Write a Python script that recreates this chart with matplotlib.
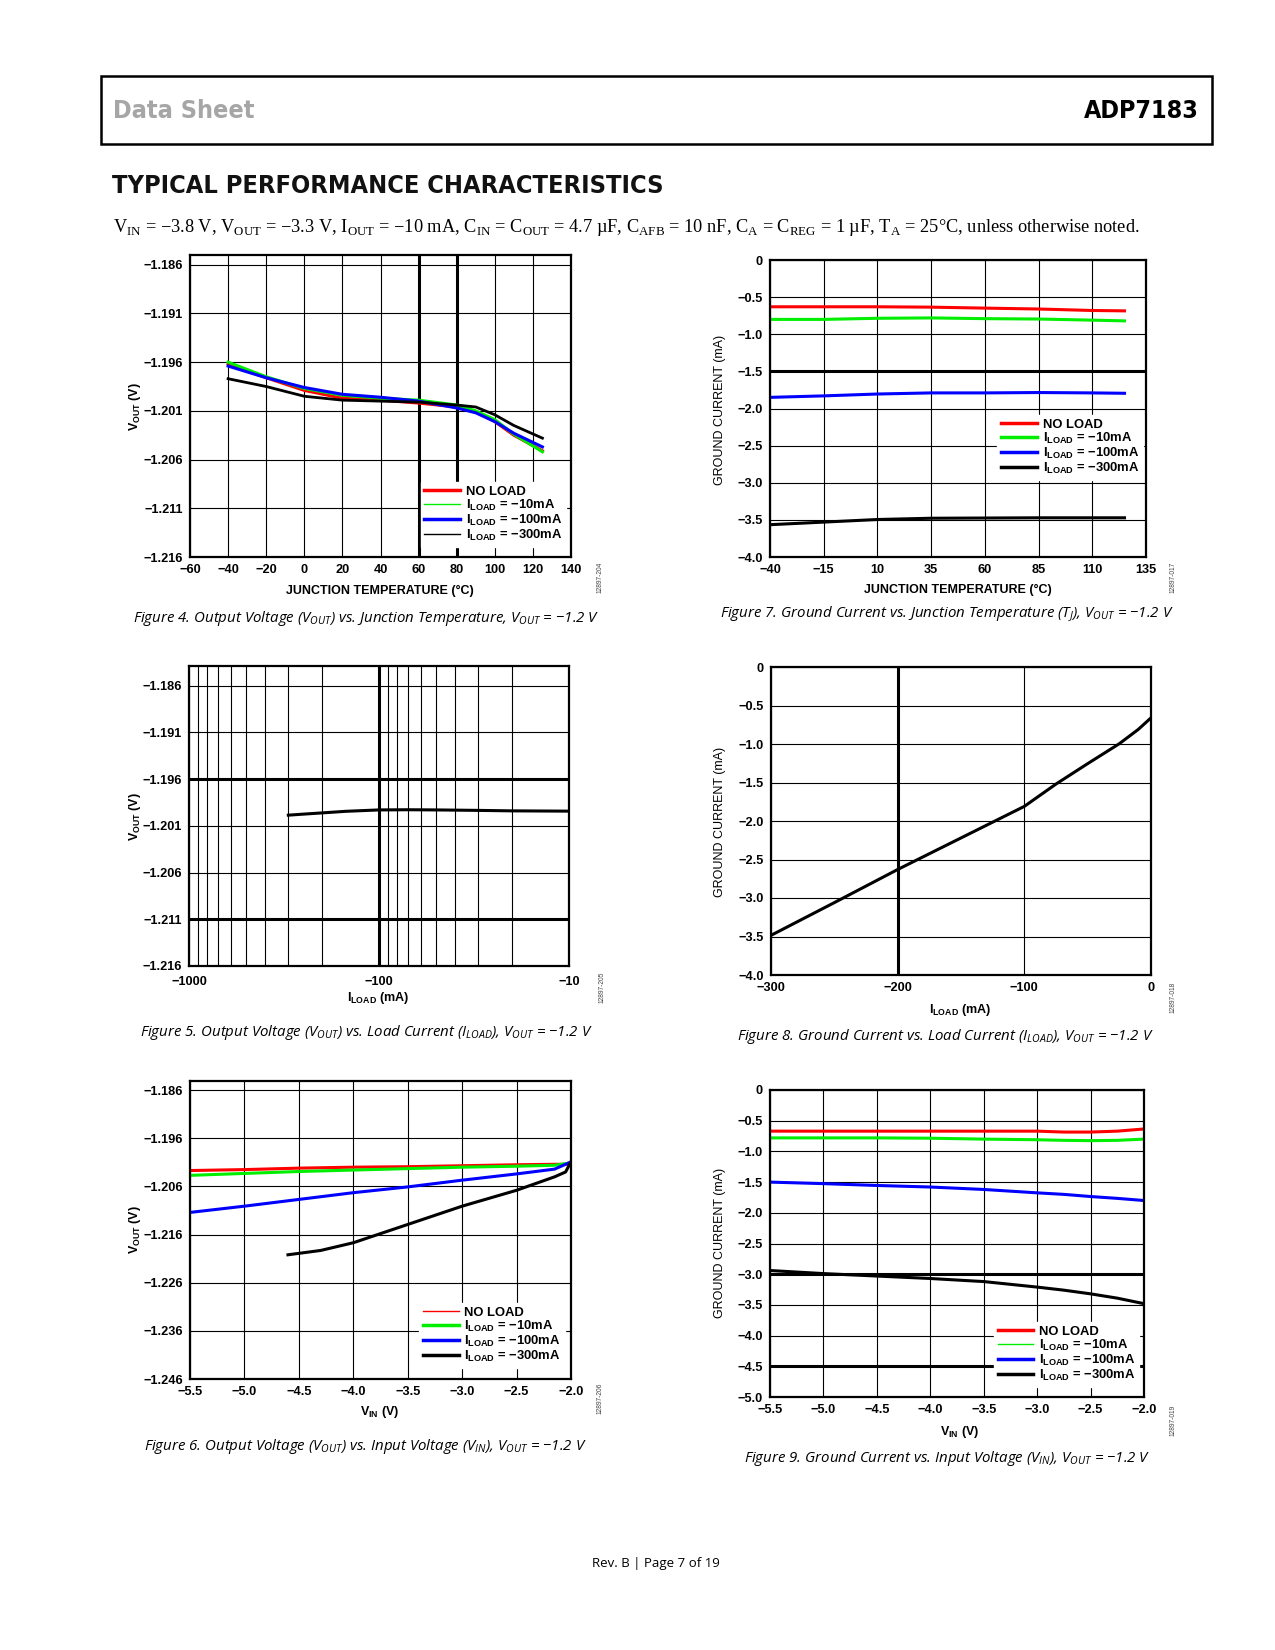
# ADP7183 data sheet page 7 - typical performance characteristics
# six small charts laid out on one letter-size page

import numpy as np
import matplotlib
matplotlib.use("Agg")
import matplotlib.pyplot as plt
from matplotlib import font_manager
from matplotlib.ticker import FuncFormatter, NullFormatter, FixedLocator

# -------------------------------------------------------
# DATA
# -------------------------------------------------------

series_names = ["NO LOAD", r"I$_{\mathbf{LOAD}}$ = −10mA",
                r"I$_{\mathbf{LOAD}}$ = −100mA", r"I$_{\mathbf{LOAD}}$ = −300mA"]
series_colors = ["#ff0000", "#00ee00", "#0000ff", "#000000"]

# Figure 4: Vout vs junction temperature
fig4_temp = [-40, -20, 0, 20, 40, 60, 80, 90, 100, 110, 125]
fig4_noload = [-1.1962, -1.1976, -1.1989, -1.1997, -1.1999, -1.2002, -1.2006, -1.2011, -1.2021, -1.2035, -1.2051]
fig4_10ma = [-1.1960, -1.1975, -1.1987, -1.1994, -1.1997, -1.1999, -1.2004, -1.2010, -1.2019, -1.2034, -1.2052]
fig4_100ma = [-1.1964, -1.1976, -1.1986, -1.1993, -1.1996, -1.2000, -1.2007, -1.2012, -1.2021, -1.2033, -1.2047]
fig4_300ma = [-1.1977, -1.1985, -1.1995, -1.1999, -1.2000, -1.2001, -1.2004, -1.2006, -1.2014, -1.2025, -1.2038]

# Figure 7: ground current vs junction temperature
fig7_temp = [-40, -15, 10, 35, 60, 85, 110, 125]
fig7_noload = [-0.63, -0.63, -0.63, -0.635, -0.648, -0.66, -0.68, -0.685]
fig7_10ma = [-0.80, -0.80, -0.785, -0.78, -0.79, -0.795, -0.81, -0.82]
fig7_100ma = [-1.85, -1.83, -1.805, -1.79, -1.79, -1.785, -1.79, -1.795]
fig7_300ma = [-3.565, -3.53, -3.495, -3.478, -3.475, -3.472, -3.472, -3.472]

# Figure 5: Vout vs load current (log axis)
fig5_iload = [-300, -250, -200, -150, -100, -70, -50, -30, -20, -10]
fig5_vout = [-1.19986, -1.19975, -1.19962, -1.19945, -1.19930, -1.19928, -1.19930, -1.19935, -1.19940, -1.19943]

# Figure 8: ground current vs load current
fig8_iload = [-300, -250, -200, -150, -100, -75, -50, -25, -10, 0]
fig8_ignd = [-3.485, -3.06, -2.63, -2.22, -1.81, -1.52, -1.255, -0.996, -0.81, -0.66]

# Figure 6: Vout vs input voltage
fig6_vin = [-5.5, -5.0, -4.5, -4.0, -3.5, -3.0, -2.5, -2.15, -2.0]
fig6_noload = [-1.2027, -1.2025, -1.2022, -1.2020, -1.2019, -1.2017, -1.2015, -1.2014, -1.2014]
fig6_10ma = [-1.2037, -1.2033, -1.2029, -1.2026, -1.2023, -1.2020, -1.2018, -1.2016, -1.2011]
fig6_100ma = [-1.2114, -1.2101, -1.2087, -1.2073, -1.2061, -1.2047, -1.2034, -1.2024, -1.2009]
fig6_vin_300 = [-4.6, -4.3, -4.0, -3.75, -3.5, -3.0, -2.5, -2.15, -2.05, -2.0]
fig6_300ma = [-1.2202, -1.2193, -1.2177, -1.2158, -1.2139, -1.2101, -1.2068, -1.2040, -1.2030, -1.2009]

# Figure 9: ground current vs input voltage
fig9_vin = [-5.5, -5.0, -4.5, -4.0, -3.5, -3.0, -2.75, -2.5, -2.25, -2.0]
fig9_noload = [-0.67, -0.67, -0.67, -0.67, -0.67, -0.67, -0.685, -0.685, -0.67, -0.635]
fig9_10ma = [-0.78, -0.78, -0.78, -0.785, -0.80, -0.81, -0.82, -0.825, -0.82, -0.80]
fig9_100ma = [-1.50, -1.525, -1.555, -1.58, -1.62, -1.675, -1.70, -1.735, -1.765, -1.80]
fig9_300ma = [-2.94, -2.99, -3.03, -3.07, -3.12, -3.21, -3.26, -3.32, -3.39, -3.48]

# -------------------------------------------------------
# PAGE SETUP
# -------------------------------------------------------

plt.rcParams["font.family"] = ["Liberation Sans", "DejaVu Sans"]
plt.rcParams["font.weight"] = "bold"
plt.rcParams["axes.labelweight"] = "bold"
plt.rcParams["mathtext.fontset"] = "custom"
plt.rcParams["mathtext.rm"] = "Liberation Serif:weight=normal"
plt.rcParams["mathtext.it"] = "Open Sans:style=italic:weight=normal"
plt.rcParams["mathtext.bf"] = "Liberation Sans:weight=bold"

W, H = 1275, 1650
fig = plt.figure(figsize=(W / 100, H / 100), dpi=100)


def px_axes(left, top, right, bottom):
    # add an axes using page pixel coordinates
    return fig.add_axes([left / W, 1 - bottom / H, (right - left) / W, (bottom - top) / H])


def fig_text(x, y, s, **kw):
    fig.text(x / W, 1 - y / H, s, **kw)


def minus(fmt):
    def f(v, pos):
        if abs(v) < 1e-9:
            return "0"
        return (fmt % v).replace("-", "\u2212")
    return FuncFormatter(f)


def style_axes(ax, xfmt, yfmt):
    for sp in ax.spines.values():
        sp.set_linewidth(1.6)
    ax.tick_params(length=0, labelsize=9.2, pad=5)
    ax.xaxis.set_major_formatter(minus(xfmt))
    ax.yaxis.set_major_formatter(minus(yfmt))
    ax.grid(True, color="black", linewidth=0.8)
    ax.set_axisbelow(True)


def add_legend(ax, x, y, widths):
    leg = ax.legend(loc="lower right", bbox_to_anchor=(x, y), borderaxespad=0,
                    fontsize=9.4, handlelength=2.7, handletextpad=0.45,
                    labelspacing=0.0, borderpad=0.3, frameon=True,
                    fancybox=False, framealpha=1, edgecolor="white", facecolor="white")
    for line, w in zip(leg.get_lines(), widths):
        line.set_linewidth(w)
    return leg


def label_at(ax, axis, text, px_x, px_y, box, **kw):
    # place an axis label at a page pixel position
    left, top, right, bottom = box
    fx = (px_x - left) / (right - left)
    fy = (bottom - px_y) / (bottom - top)
    if axis == "x":
        ax.set_xlabel(text, fontsize=9.0, **kw)
        ax.xaxis.set_label_coords(fx, fy)
        ax.xaxis.label.set_va("center")
    else:
        ax.set_ylabel(text, fontsize=9.0, **kw)
        ax.yaxis.set_label_coords(fx, fy)
        ax.yaxis.label.set_va("center")


cap_kw = dict(family=["Open Sans", "DejaVu Sans"], style="italic", weight="normal",
              fontsize=10.8, ha="center", va="center")
id_kw = dict(family=["Liberation Sans"], weight="normal", fontsize=4.8, color="#444444",
             rotation=90, ha="center", va="center")

# condensed bold face for the page headings, if the system has one
cond_prop = font_manager.FontProperties(family="DejaVu Sans", stretch="condensed", weight="bold")
cond_file = font_manager.findfont(cond_prop, fallback_to_default=True)
if "Condensed" in cond_file:
    head_kw = dict(fontproperties=font_manager.FontProperties(fname=cond_file))
    head_sizes = [18, 18.2]
else:
    head_kw = dict(family=["Liberation Sans"], weight="bold")
    head_sizes = [16.5, 15.5]

# -------------------------------------------------------
# HEADER
# -------------------------------------------------------

header = plt.Rectangle((101 / W, 1 - 144 / H), (1212 - 101) / W, (144 - 76) / H,
                       transform=fig.transFigure, fill=False, linewidth=1.8, edgecolor="black")
fig.add_artist(header)
fig_text(113, 111, "Data Sheet", fontsize=head_sizes[0], color="#a6a6a6", va="center", ha="left", **head_kw)
fig_text(1199, 111, "ADP7183", fontsize=head_sizes[0], color="black", va="center", ha="right", **head_kw)
fig_text(112, 186, "TYPICAL PERFORMANCE CHARACTERISTICS", fontsize=head_sizes[1],
         color="#111111", va="center", ha="left", **head_kw)
fig_text(113, 227,
         r"V$_{\mathrm{IN}}$ = −3.8 V, V$_{\mathrm{OUT}}$ = −3.3 V, I$_{\mathrm{OUT}}$ = −10 mA, "
         r"C$_{\mathrm{IN}}$ = C$_{\mathrm{OUT}}$ = 4.7 µF, C$_{\mathrm{AFB}}$ = 10 nF, "
         r"C$_{\mathrm{A}}$ = C$_{\mathrm{REG}}$ = 1 µF, T$_{\mathrm{A}}$ = 25°C, unless otherwise noted.",
         family=["Liberation Serif"], weight="normal", fontsize=13.2, va="center", ha="left")

# -------------------------------------------------------
# FIGURE 4
# -------------------------------------------------------

box4 = (190, 255, 571, 557)
ax4 = px_axes(*box4)
for vals, name, col, lw in zip([fig4_noload, fig4_10ma, fig4_100ma, fig4_300ma],
                               series_names, series_colors, [2.2, 2.2, 2.2, 2.0]):
    ax4.plot(fig4_temp, vals, color=col, linewidth=lw, label=name)
ax4.set_xlim(-60, 140)
ax4.set_ylim(-1.216, -1.185)
ax4.set_xticks(np.arange(-60, 141, 20))
ax4.set_yticks([-1.216, -1.211, -1.206, -1.201, -1.196, -1.191, -1.186])
style_axes(ax4, "%d", "%.3f")
for v in [60, 80]:
    ax4.axvline(v, color="black", linewidth=2.2, zorder=0.5)
add_legend(ax4, 0.987, 0.033, [2.5, 1.0, 2.5, 1.0])
label_at(ax4, "x", "JUNCTION TEMPERATURE (°C)", 380, 591, box4)
label_at(ax4, "y", r"V$_{\mathbf{OUT}}$ (V)", 135, 407, box4)
fig_text(366, 618, r"Figure 4. Output Voltage (V$_{OUT}$) vs. Junction Temperature, V$_{OUT}$ = −1.2 V", **cap_kw)
fig_text(600, 577, "12897-204", **id_kw)

# -------------------------------------------------------
# FIGURE 7
# -------------------------------------------------------

box7 = (770, 260, 1146, 557)
ax7 = px_axes(*box7)
for vals, name, col in zip([fig7_noload, fig7_10ma, fig7_100ma, fig7_300ma], series_names, series_colors):
    ax7.plot(fig7_temp, vals, color=col, linewidth=2.2, label=name)
ax7.set_xlim(-40, 135)
ax7.set_ylim(-4.0, 0)
ax7.set_xticks(np.arange(-40, 136, 25))
ax7.set_yticks(np.arange(-4.0, 0.01, 0.5))
style_axes(ax7, "%d", "%.1f")
ax7.axhline(-1.5, color="black", linewidth=2.2, zorder=0.5)
add_legend(ax7, 0.992, 0.259, [2.5, 2.5, 2.5, 2.5])
label_at(ax7, "x", "JUNCTION TEMPERATURE (°C)", 958, 590, box7)
label_at(ax7, "y", "GROUND CURRENT (mA)", 720, 410, box7, fontweight="normal")
fig_text(947, 614, r"Figure 7. Ground Current vs. Junction Temperature (T$_{J}$), V$_{OUT}$ = −1.2 V", **cap_kw)
fig_text(1173, 577, "12897-017", **id_kw)

# -------------------------------------------------------
# FIGURE 5 (log x axis, drawn on the load current magnitude)
# -------------------------------------------------------

box5 = (189, 666, 569, 966)
ax5 = px_axes(*box5)
ax5.plot(np.abs(fig5_iload), fig5_vout, color="black", linewidth=2.2)
ax5.set_xscale("log")
ax5.set_xlim(1000, 10)
ax5.set_ylim(-1.216, -1.1839)
ax5.set_yticks([-1.216, -1.211, -1.206, -1.201, -1.196, -1.191, -1.186])
style_axes(ax5, "%d", "%.3f")
ax5.xaxis.set_major_locator(FixedLocator([1000, 100, 10]))
ax5.xaxis.set_major_formatter(FuncFormatter(lambda v, p: "\u2212%d" % round(v)))
ax5.xaxis.set_minor_locator(FixedLocator([k * d for d in [10, 100] for k in range(2, 10)]))
ax5.xaxis.set_minor_formatter(NullFormatter())
ax5.tick_params(which="minor", length=0)
ax5.grid(True, which="minor", axis="x", color="black", linewidth=0.8)
ax5.axvline(100, color="black", linewidth=2.2, zorder=0.5)
for v in [-1.196, -1.211]:
    ax5.axhline(v, color="black", linewidth=2.2, zorder=0.5)
ax5.tick_params(axis="x", pad=7)
label_at(ax5, "x", r"I$_{\mathbf{LOAD}}$ (mA)", 378, 998, box5)
label_at(ax5, "y", r"V$_{\mathbf{OUT}}$ (V)", 135, 817, box5)
fig_text(366, 1033, r"Figure 5. Output Voltage (V$_{OUT}$) vs. Load Current (I$_{LOAD}$), V$_{OUT}$ = −1.2 V", **cap_kw)
fig_text(602, 987, "12897-205", **id_kw)

# -------------------------------------------------------
# FIGURE 8
# -------------------------------------------------------

box8 = (771, 667, 1151, 975)
ax8 = px_axes(*box8)
ax8.plot(fig8_iload, fig8_ignd, color="black", linewidth=2.2)
ax8.set_xlim(-300, 0)
ax8.set_ylim(-4.0, 0)
ax8.set_xticks([-300, -200, -100, 0])
ax8.set_yticks(np.arange(-4.0, 0.01, 0.5))
style_axes(ax8, "%d", "%.1f")
ax8.axvline(-200, color="black", linewidth=2.2, zorder=0.5)
label_at(ax8, "x", r"I$_{\mathbf{LOAD}}$ (mA)", 960, 1010, box8)
label_at(ax8, "y", "GROUND CURRENT (mA)", 720, 822, box8, fontweight="normal")
fig_text(945, 1037, r"Figure 8. Ground Current vs. Load Current (I$_{LOAD}$), V$_{OUT}$ = −1.2 V", **cap_kw)
fig_text(1173, 997, "12897-018", **id_kw)

# -------------------------------------------------------
# FIGURE 6
# -------------------------------------------------------

box6 = (190, 1081, 571, 1379)
ax6 = px_axes(*box6)
ax6.plot(fig6_vin, fig6_noload, color=series_colors[0], linewidth=2.2, label=series_names[0])
ax6.plot(fig6_vin, fig6_10ma, color=series_colors[1], linewidth=2.2, label=series_names[1])
ax6.plot(fig6_vin, fig6_100ma, color=series_colors[2], linewidth=2.2, label=series_names[2])
ax6.plot(fig6_vin_300, fig6_300ma, color=series_colors[3], linewidth=2.2, label=series_names[3])
ax6.set_xlim(-5.5, -2.0)
ax6.set_ylim(-1.246, -1.1841)
ax6.set_xticks(np.arange(-5.5, -1.99, 0.5))
ax6.set_yticks([-1.246, -1.236, -1.226, -1.216, -1.206, -1.196, -1.186])
style_axes(ax6, "%.1f", "%.3f")
add_legend(ax6, 0.984, 0.037, [1.0, 2.5, 2.5, 2.5])
label_at(ax6, "x", r"V$_{\mathbf{IN}}$ (V)", 380, 1412, box6)
label_at(ax6, "y", r"V$_{\mathbf{OUT}}$ (V)", 135, 1230, box6)
fig_text(365, 1447, r"Figure 6. Output Voltage (V$_{OUT}$) vs. Input Voltage (V$_{IN}$), V$_{OUT}$ = −1.2 V", **cap_kw)
fig_text(600, 1398, "12897-206", **id_kw)

# -------------------------------------------------------
# FIGURE 9
# -------------------------------------------------------

box9 = (770, 1090, 1144, 1397)
ax9 = px_axes(*box9)
for vals, name, col in zip([fig9_noload, fig9_10ma, fig9_100ma, fig9_300ma], series_names, series_colors):
    ax9.plot(fig9_vin, vals, color=col, linewidth=2.2, label=name)
ax9.set_xlim(-5.5, -2.0)
ax9.set_ylim(-5.0, 0)
ax9.set_xticks(np.arange(-5.5, -1.99, 0.5))
ax9.set_yticks(np.arange(-5.0, 0.01, 0.5))
style_axes(ax9, "%.1f", "%.1f")
for v in [-3.0, -4.5]:
    ax9.axhline(v, color="black", linewidth=2.2, zorder=0.5)
add_legend(ax9, 0.987, 0.033, [2.5, 1.0, 2.5, 2.5])
label_at(ax9, "x", r"V$_{\mathbf{IN}}$ (V)", 960, 1432, box9)
label_at(ax9, "y", "GROUND CURRENT (mA)", 720, 1243, box9, fontweight="normal")
fig_text(947, 1459, r"Figure 9. Ground Current vs. Input Voltage (V$_{IN}$), V$_{OUT}$ = −1.2 V", **cap_kw)
fig_text(1173, 1420, "12897-019", **id_kw)

# -------------------------------------------------------
# FOOTER
# -------------------------------------------------------

fig_text(656, 1564, "Rev. B | Page 7 of 19", family=["Open Sans", "DejaVu Sans"], weight="normal",
         fontsize=9.5, ha="center", va="center")

plt.savefig("out.png", dpi=100)
